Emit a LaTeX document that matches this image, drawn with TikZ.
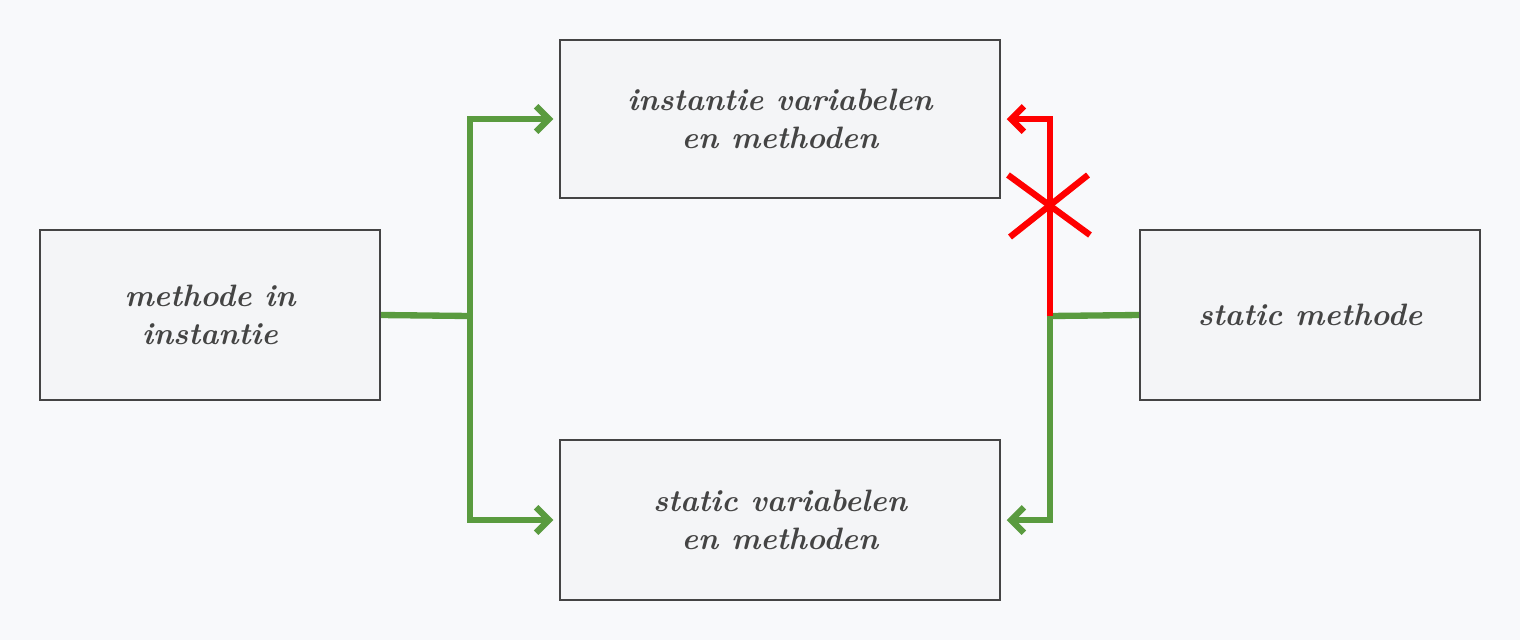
\documentclass[tikz,border=0pt]{standalone}
\usepackage{tikz}
\usetikzlibrary{arrows.meta,positioning}
\definecolor{bgcol}{HTML}{F8F9FB}
\definecolor{boxcol}{HTML}{F4F5F7}
\definecolor{linecol}{HTML}{444444}
\definecolor{okcol}{HTML}{5A9B3F}
\definecolor{nocol}{HTML}{FF0000}
\tikzstyle{block}=[rectangle, draw=linecol, fill=boxcol, line width=1.5pt,
                   align=center, font=\fontsize{22}{27}\selectfont\itshape\bfseries, text=linecol]
\tikzstyle{link} =[line width=4.5pt, -{Straight Barb[length=9pt,width=18pt]}]
\begin{document}
\begin{tikzpicture}[x=0.025cm, y=-0.025cm]
    \fill[bgcol] (0,0) rectangle (1520,640);
    \useasboundingbox (0,0) rectangle (1520,640);
    \node[block, minimum width=11cm, minimum height=3.95cm] (top) at (780,119) {instantie variabelen\\en methoden};
    \node[block, minimum width=11cm, minimum height=4cm] (bottom) at (780,520) {static variabelen\\en methoden};
    \node[block, minimum width=8.5cm, minimum height=4.25cm] (inst) at (210,315) {methode in\\instantie};
    \node[block, minimum width=8.5cm, minimum height=4.25cm] (stat) at (1310,315) {static methode};

    \coordinate (jl) at (470,316);
    \coordinate (jr) at (1050,316);

    \draw[link, okcol, -] (inst.east) -- (jl);
    \draw[link, okcol] (jl) |- ([xshift=-4pt]top.west);
    \draw[link, okcol] (jl) |- ([xshift=-4pt]bottom.west);
    \draw[link, okcol, -] (stat.west) -- (jr);
    \draw[link, okcol] (jr) |- ([xshift=4pt]bottom.east);
    \draw[link, nocol] (jr) |- ([xshift=4pt]top.east);

    % cross on the forbidden path
    \coordinate (c1) at (1008,175);
    \coordinate (c2) at (1090,235);
    \coordinate (c3) at (1088,175);
    \coordinate (c4) at (1010,237);
    \draw[nocol, line width=4.5pt] (c1) -- (c2);
    \draw[nocol, line width=4.5pt] (c3) -- (c4);
\end{tikzpicture}
\end{document}
